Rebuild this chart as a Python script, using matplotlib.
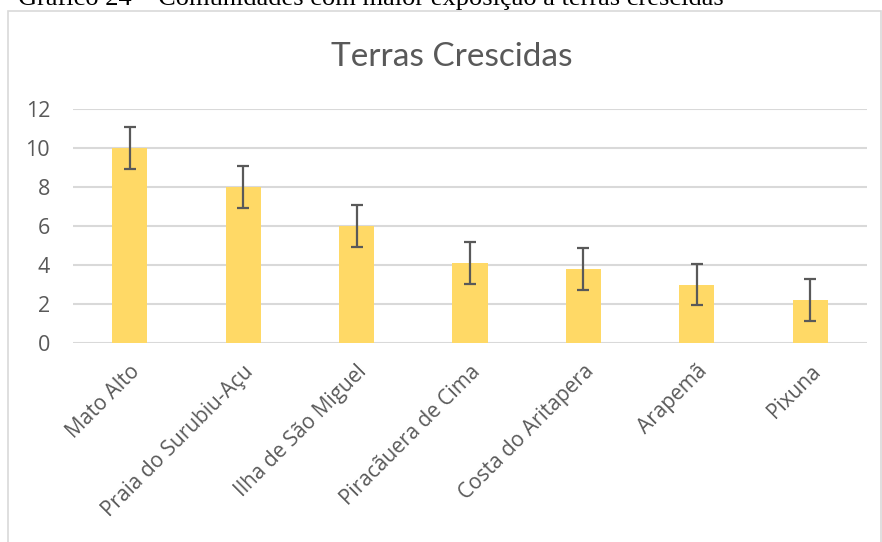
import matplotlib
matplotlib.use("Agg")
import matplotlib.pyplot as plt
import matplotlib.patches as patches

# communities and counts
comunidades = ["Mato Alto", "Praia do Surubiu-Açu", "Ilha de São Miguel",
               "Piracãuera de Cima", "Costa do Aritapera", "Arapemã", "Pixuna"]
valores = [10, 8, 6, 4.1, 3.8, 3.0, 2.2]
erros = [1.07] * len(valores)
yticks = [0, 2, 4, 6, 8, 10, 12]

W, H = 882, 542
fig = plt.figure(figsize=(W / 100, H / 100), dpi=100)

# caption above the chart box (partly cut off at the top of the page)
fig.text(18 / W, 1 - 5 / H, "Gráfico 24 – Comunidades com maior exposição a terras crescidas",
         family="Liberation Serif", fontsize=19, color="black", va="baseline", ha="left")

# chart frame
frame = patches.Rectangle((8 / W, -0.05), (881 - 8) / W, (H - 11) / H + 0.05,
                          transform=fig.transFigure, fill=False,
                          edgecolor="#D9D9D9", linewidth=1.2)
fig.add_artist(frame)

ax = fig.add_axes([73 / W, (H - 343) / H, (867 - 73) / W, (343 - 109) / H])

x = range(len(comunidades))
ax.bar(x, valores, width=0.31, color="#FFD966", zorder=2)
ax.errorbar(x, valores, yerr=erros, fmt="none", ecolor="#595959",
            elinewidth=1.6, capsize=4.3, capthick=1.6, zorder=3)

ax.set_xlim(-0.5, len(comunidades) - 0.5)
ax.set_ylim(0, 12)
ax.set_yticks(yticks)
ax.set_yticklabels([str(t) for t in yticks], family="Open Sans", fontsize=15.5, color="#595959")
ax.yaxis.grid(True, color="#D9D9D9", linewidth=1.5, zorder=0)
ax.tick_params(axis="both", length=0)
ax.tick_params(axis="y", pad=16.5)

ax.set_xticks(list(x))
ax.set_xticklabels(comunidades, rotation=45, ha="right", va="top",
                   rotation_mode="anchor", family="Open Sans", fontsize=15, color="#595959")
ax.tick_params(axis="x", pad=13)

for s in ax.spines.values():
    s.set_visible(False)

# chart title
fig.text(452 / W, 1 - 66 / H, "Terras Crescidas", family="Lato", fontsize=24,
         color="#595959", ha="center", va="baseline")

fig.savefig("out.png", dpi=100)
plt.close(fig)
